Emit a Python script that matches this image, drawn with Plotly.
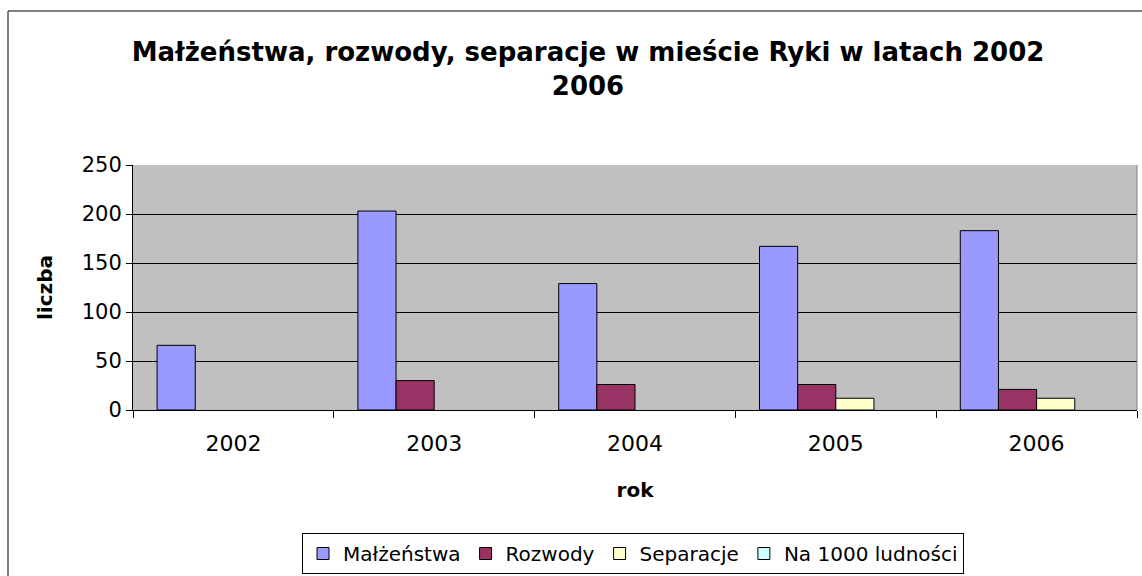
import plotly.graph_objects as go

years = ["2002", "2003", "2004", "2005", "2006"]
malzenstwa = [66, 203, 129, 167, 183]
rozwody = [None, 30, 26, 26, 21]
separacje = [None, None, None, 12, 12]
na_1000 = [None, None, None, None, None]

series = [
    ("Małżeństwa", malzenstwa, "#9999FF"),
    ("Rozwody", rozwody, "#993366"),
    ("Separacje", separacje, "#FFFFCC"),
    ("Na 1000 ludności", na_1000, "#CCFFFF"),
]

FONT = "DejaVu Sans, Arial, sans-serif"

fig = go.Figure()
for name, vals, col in series:
    fig.add_trace(go.Bar(
        x=years, y=vals, name=name,
        marker=dict(color=col, line=dict(color="#000000", width=1)),
    ))

L, R, T, B = 133, 5, 165, 166
W, H = 1142, 576
pw, ph = W - L - R, H - T - B

def px_x(p):
    return (p - L) / pw

def px_y(p):
    return (H - B - p) / ph

fig.update_layout(
    width=W, height=H,
    margin=dict(l=L, r=R, t=T, b=B, autoexpand=False),
    paper_bgcolor="white",
    plot_bgcolor="#C0C0C0",
    barmode="group",
    bargap=0.24,
    bargroupgap=0,
    font=dict(family=FONT, color="black"),
    title=dict(
        text="<b>Małżeństwa, rozwody, separacje w mieście Ryki w latach 2002</b><br><b>2006</b>",
        x=588 / W, xanchor="center", y=1 - 61 / H, yanchor="top",
        font=dict(size=26, family=FONT, color="black"),
    ),
    showlegend=True,
    legend=dict(
        orientation="h",
        x=px_x(302), xanchor="left",
        y=px_y(533), yanchor="top",
        font=dict(size=20, family=FONT, color="black"),
        bordercolor="black", borderwidth=1,
        bgcolor="white",
        itemwidth=30,
        traceorder="normal",
    ),
    xaxis=dict(
        type="category",
        showline=True, linecolor="black", linewidth=1,
        ticks="outside", tickson="boundaries", ticklen=7, tickcolor="black",
        tickfont=dict(size=22, family=FONT),
        ticklabelstandoff=14,
        showgrid=False,
        title=dict(text="<b>rok</b>", font=dict(size=20, family=FONT), standoff=27),
    ),
    yaxis=dict(
        range=[0, 250], dtick=50,
        showline=True, linecolor="black", linewidth=1,
        ticks="outside", ticklen=6, tickcolor="black",
        tickfont=dict(size=21, family=FONT),
        showgrid=True, gridcolor="black", gridwidth=1,
        zeroline=False,
        title=dict(text="<b>liczba</b>", font=dict(size=20, family=FONT), standoff=23),
    ),
    shapes=[
        dict(type="line", xref="paper", yref="paper",
             x0=1, x1=1, y0=0, y1=1,
             line=dict(color="#808080", width=1), layer="above"),
        dict(type="rect", xref="paper", yref="paper",
             x0=px_x(8), x1=px_x(1160), y0=px_y(11), y1=px_y(600),
             line=dict(color="black", width=1), layer="below"),
    ],
)

fig.write_html(
    "out.html",
    config={"displayModeBar": False},
    post_script="document.body.style.margin='0';document.body.style.overflow='hidden';",
)
